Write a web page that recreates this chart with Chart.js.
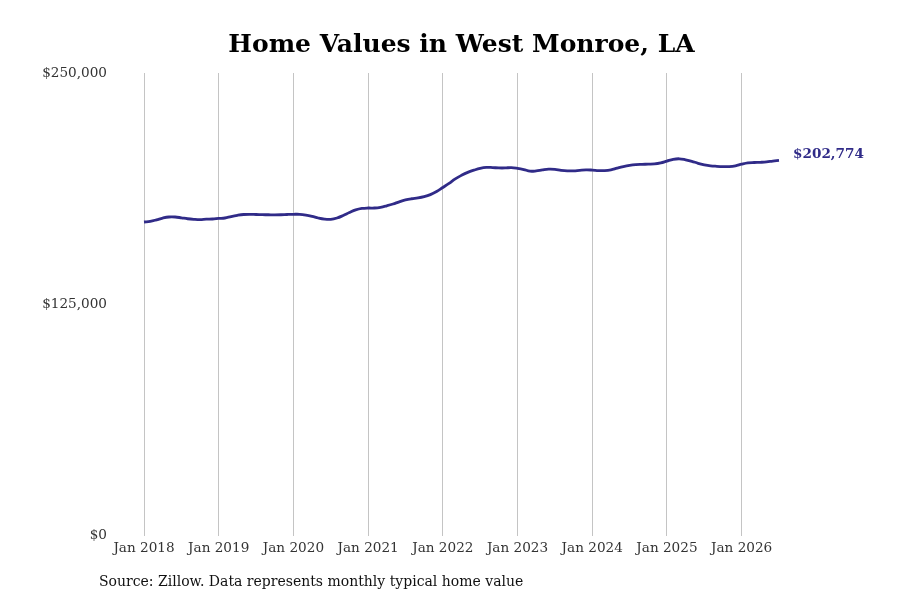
<!DOCTYPE html>
<html>
<head>
<meta charset="utf-8">
<script src="https://cdn.jsdelivr.net/npm/chart.js@4.4.1/dist/chart.umd.min.js"></script>
<style>
  html, body { margin: 0; padding: 0; background: #ffffff; }
  #wrap { width: 900px; height: 600px; position: relative; }
</style>
</head>
<body>
<div id="wrap"><canvas id="c" width="900" height="600"></canvas></div>
<script>
const chartTitle = "Home Values in West Monroe, LA";
const sourceNote = "Source: Zillow. Data represents monthly typical home value";
const monthNames = ["Jan","Feb","Mar","Apr","May","Jun","Jul","Aug","Sep","Oct","Nov","Dec"];
const startYear = 2018;
const yTicks = [0, 125000, 250000];

// Monthly typical home value, Jan 2018 – Jul 2026
const homeValues = [
  169500, 169850, 170650, 171600, 172200, 172200, 171750, 171250, 170950, 170800, 171000, 171100,
  171400, 171650, 172450, 173100, 173550, 173650, 173550, 173450, 173400, 173350, 173400, 173550,
  173650, 173650, 173250, 172550, 171650, 171050, 170950, 171650, 173000, 174600, 176000, 176800,
  177050, 177050, 177450, 178250, 179200, 180400, 181400, 182050, 182500, 183200, 184300, 186000,
  188150, 190350, 192800, 194700, 196300, 197500, 198500, 199000, 198900, 198700, 198700, 198900,
  198500, 197850, 196950, 197100, 197650, 198050, 197950, 197400, 197100, 197100, 197400, 197650,
  197550, 197300, 197250, 197650, 198600, 199450, 200100, 200500, 200650, 200750, 200850, 201400,
  202400, 203350, 203650, 203100, 202300, 201200, 200400, 199850, 199600, 199450, 199450, 199850,
  200750, 201450, 201650, 201750, 201950, 202400, 202774
];

const labels = homeValues.map((_, i) => monthNames[i % 12] + " " + (startYear + Math.floor(i / 12)));

const lineColor = "#302b88";
const serif = "'DejaVu Serif', serif";

const fmtMoney = v => "$" + Math.round(v).toLocaleString("en-US");

const annotate = {
  id: "annotate",
  afterDatasetsDraw(chart) {
    const ctx = chart.ctx;
    const xs = chart.scales.x, ys = chart.scales.y;
    const last = homeValues.length - 1;
    const px = xs.getPixelForValue(last);
    const py = ys.getPixelForValue(homeValues[last]);
    ctx.save();
    ctx.font = "bold 13.6px " + serif;
    ctx.fillStyle = lineColor;
    ctx.textAlign = "left";
    ctx.textBaseline = "middle";
    ctx.fillText(fmtMoney(homeValues[last]), px + 14, py - 6);
    ctx.font = "14px " + serif;
    ctx.fillStyle = "#111111";
    ctx.textBaseline = "middle";
    ctx.fillText(sourceNote, 99, 582);
    ctx.restore();
  }
};

new Chart(document.getElementById("c"), {
  type: "line",
  data: {
    labels: labels,
    datasets: [{
      data: homeValues,
      borderColor: lineColor,
      borderWidth: 2.8,
      pointRadius: 0,
      pointHoverRadius: 0,
      tension: 0.4,
      fill: false
    }]
  },
  options: {
    responsive: false,
    animation: false,
    devicePixelRatio: 1,
    layout: { padding: { left: 0, right: 121, top: 0, bottom: 38 } },
    plugins: {
      legend: { display: false },
      tooltip: { enabled: false },
      title: {
        display: true,
        text: chartTitle,
        fullSize: false,
        color: "#000000",
        font: { family: serif, size: 25, weight: "bold" },
        padding: { top: 30, bottom: 13 }
      }
    },
    scales: {
      x: {
        type: "category",
        offset: false,
        border: { display: false },
        grid: {
          drawTicks: false,
          lineWidth: 1,
          color: c => (c.index % 12 === 0 ? "#c4c4c4" : "rgba(0,0,0,0)")
        },
        ticks: {
          autoSkip: false,
          maxRotation: 0,
          minRotation: 0,
          padding: 5,
          color: "#333333",
          font: { family: serif, size: 13.6 },
          callback: (v, i) => (i % 12 === 0 ? labels[i] : "")
        }
      },
      y: {
        min: 0,
        max: 250000,
        border: { display: false },
        grid: { display: false, drawTicks: false },
        afterBuildTicks: s => { s.ticks = yTicks.map(v => ({ value: v })); },
        afterFit: s => { s.width = 144; },
        ticks: {
          padding: 37,
          color: "#333333",
          font: { family: serif, size: 13.6 },
          callback: v => fmtMoney(v)
        }
      }
    }
  },
  plugins: [annotate]
});
</script>
</body>
</html>
